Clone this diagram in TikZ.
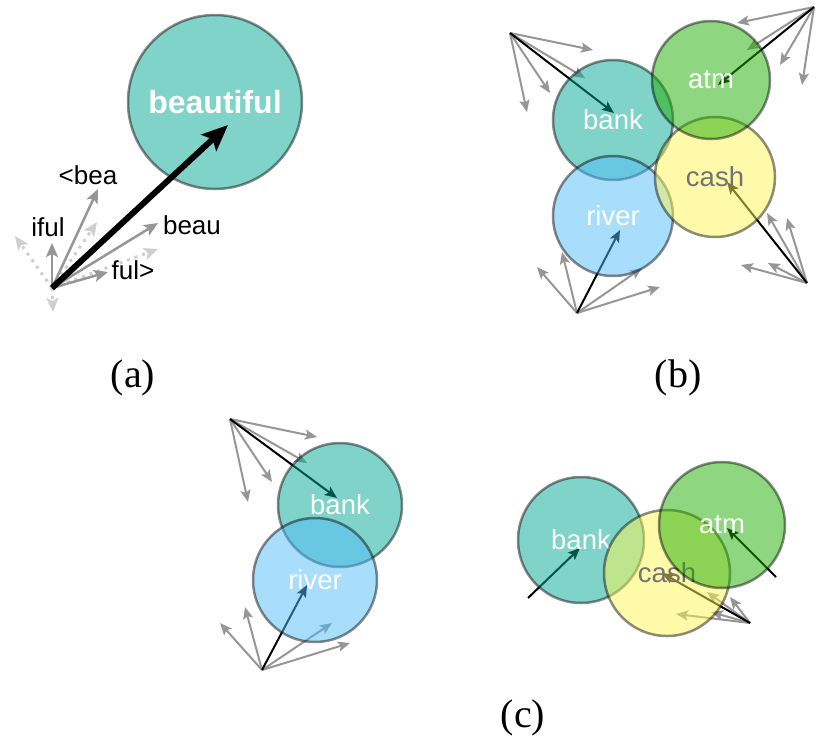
\documentclass[tikz,border=0pt]{standalone}
\usepackage{fontspec}
\setmainfont{Liberation Sans}
\newfontfamily\capfont{Liberation Serif}
\usetikzlibrary{arrows.meta}
\definecolor{wordTeal}{HTML}{00A793}
\definecolor{wordGreen}{HTML}{1DAD01}
\definecolor{wordYellow}{HTML}{FFF555}
\definecolor{wordBlue}{HTML}{51BBF9}
\definecolor{vecGray}{HTML}{969696}
\definecolor{dotGray}{HTML}{CFCFCF}

\begin{document}
\begin{tikzpicture}[x=1pt, y=-1pt,
    word/.style={circle, draw=black, draw opacity=0.45, line width=2.5pt,
        fill opacity=0.5, text opacity=1, inner sep=0pt, text=white,
        font=\fontsize{27.5}{27.5}\selectfont},
    gvec/.style={draw=vecGray, line width=2pt, -{Stealth[length=12pt,width=10pt,inset=2.5pt]}},
    bvec/.style={draw=black, line width=2pt, -{Stealth[length=12pt,width=10pt,inset=2.5pt]}},
    avec/.style={draw=vecGray, line width=2.5pt, -{Stealth[length=14pt,width=12pt,inset=3pt]}},
    dvec/.style={draw=dotGray, line width=3pt, dash pattern=on 3pt off 5pt, -{Stealth[length=14pt,width=12pt,inset=3pt]}},
    lab/.style={font=\fontsize{26}{26}\selectfont, inner sep=1pt},
    panelcap/.style={font=\capfont\fontsize{40}{40}\selectfont}]
    \useasboundingbox (0,0) rectangle (817,742);

    % (a) subword vectors of beautiful
    \coordinate (oA) at (52,288);
    \coordinate (dUL) at (15,236);  \coordinate (dDn) at (53,312);
    \coordinate (dUR) at (97,222);  \coordinate (dRt) at (158,249);
    \coordinate (tBea) at (98,189); \coordinate (tIful) at (52,243);
    \coordinate (tBeau) at (158,223); \coordinate (tFul) at (108,272);
    \coordinate (tBeautiful) at (228,125);
    \foreach \t in {dUL,dDn,dUR,dRt}
        \draw[dvec] (oA) -- (\t);
    \foreach \t in {tBea,tIful,tBeau,tFul}
        \draw[avec] (oA) -- (\t);
    \node[word, fill=wordTeal, minimum size=174pt,
        font=\bfseries\fontsize{32}{32}\selectfont] (beautiful) at (215,102) {beautiful};
    \draw[line width=6pt, -{Stealth[length=26pt,width=22pt,inset=5pt]}] (oA) -- (tBeautiful);
    \node[lab] (lBea) at (88,175) {<bea};
    \node[lab] (lIful) at (48,227) {iful};
    \node[lab] (lBeau) at (192,225) {beau};
    \node[lab] (lFul) at (133,270) {ful>};
    \node[panelcap] (capA) at (133,378) {(a)};

    % (b) one vector per word
    \coordinate (oBk) at (510,33);
    \coordinate (oAt) at (814,7);
    \coordinate (oCs) at (807,283);
    \coordinate (oRv) at (577,313);
    \foreach \x/\y in {593/50,585/78,550/93,527/112}
        \draw[gvec] (oBk) -- (\x,\y);
    \foreach \x/\y in {737/23,747/50,780/65,802/85}
        \draw[gvec] (oAt) -- (\x,\y);
    \foreach \x/\y in {767/213,787/218,768/263,741/265}
        \draw[gvec] (oCs) -- (\x,\y);
    \foreach \x/\y in {537/267,562/252,642/268,660/287}
        \draw[gvec] (oRv) -- (\x,\y);
    \coordinate (tBk) at (614,113);
    \coordinate (tAt) at (718,85);
    \coordinate (tCs) at (727,182);
    \coordinate (tRv) at (620,230);
    \draw[bvec] (oBk) -- (tBk);
    \draw[bvec] (oAt) -- (tAt);
    \draw[bvec] (oCs) -- (tCs);
    \draw[bvec] (oRv) -- (tRv);
    \node[word, fill=wordTeal, minimum size=120pt] (bankB) at (613,120) {bank};
    \node[word, fill=wordBlue, minimum size=120pt] (riverB) at (613,216) {river};
    \node[word, fill=wordYellow, minimum size=120pt, text=black!55] (cashB) at (715,177) {cash};
    \node[word, fill=wordGreen, minimum size=118pt] (atmB) at (711,80) {atm};
    \node[panelcap] (capB) at (678,378) {(b)};

    % (c) several vectors per word
    \coordinate (oBk2) at (230,419);
    \coordinate (oRv2) at (262,670);
    \foreach \x/\y in {317/437,307/463,272/482,248/502}
        \draw[gvec] (oBk2) -- (\x,\y);
    \foreach \x/\y in {220/623,245/607,332/623,350/643}
        \draw[gvec] (oRv2) -- (\x,\y);
    \coordinate (tBk2) at (337,498);
    \coordinate (tRv2) at (307,585);
    \draw[bvec] (oBk2) -- (tBk2);
    \draw[bvec] (oRv2) -- (tRv2);
    \node[word, fill=wordTeal, minimum size=124pt] (bankC) at (340,505) {bank};
    \node[word, fill=wordBlue, minimum size=124pt] (riverC) at (315,580) {river};

    \coordinate (oBk3) at (528,598);
    \coordinate (oAt3) at (776,577);
    \coordinate (oCs3) at (750,623);
    \foreach \x/\y in {707/592,730/597,676/614,711/612}
        \draw[gvec] (oCs3) -- (\x,\y);
    \coordinate (tBk3) at (580,548);
    \coordinate (tAt3) at (727,528);
    \coordinate (tCs3) at (662,573);
    \draw[bvec] (oBk3) -- (tBk3);
    \draw[bvec] (oAt3) -- (tAt3);
    \draw[bvec] (oCs3) -- (tCs3);
    \node[word, fill=wordTeal, minimum size=126pt] (bankD) at (581,540) {bank};
    \node[word, fill=wordYellow, minimum size=126pt, text=black!55] (cashD) at (667,573) {cash};
    \node[word, fill=wordGreen, minimum size=126pt] (atmD) at (722,525) {atm};
    \node[panelcap] (capC) at (523,718) {(c)};
\end{tikzpicture}
\end{document}
